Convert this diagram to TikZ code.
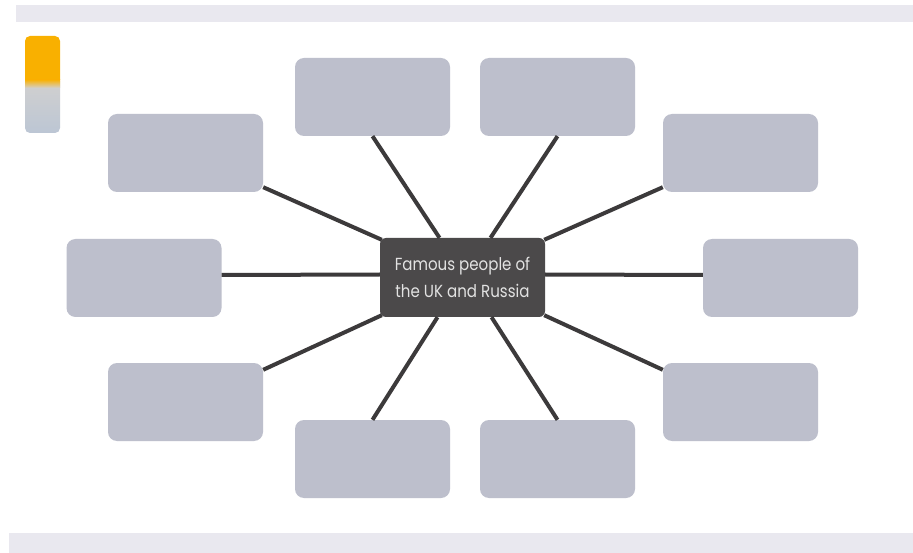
\documentclass[tikz,border=0pt]{standalone}
\usepackage{fontspec}
\setmainfont{Poppins}
\usetikzlibrary{calc}
\definecolor{bandc}{HTML}{E9E8EF}
\definecolor{boxc}{HTML}{BDBFCC}
\definecolor{centc}{HTML}{4B494A}
\definecolor{linec}{HTML}{3C3A3B}
\definecolor{textc}{HTML}{E2E2E2}
\definecolor{orangec}{HTML}{F9B000}
\definecolor{greyA}{HTML}{D3D1CF}
\definecolor{greyB}{HTML}{BCC6D4}
\tikzset{
  leaf/.style={rectangle, rounded corners=9pt, fill=boxc, minimum width=155pt, minimum height=78pt, inner sep=0pt},
  hub/.style={rectangle, rounded corners=6pt, fill=centc, minimum width=165pt, minimum height=79pt, inner sep=0pt, text=textc, align=center, font=\fontsize{17.5}{27}\selectfont},
  spoke/.style={draw=linec, line width=4pt}
}
\begin{document}
\begin{tikzpicture}[x=1pt,y=-1pt]
\useasboundingbox (0,0) rectangle (913,553);
\fill[white] (0,0) rectangle (913,553);
% bands
\fill[bandc] (16,5) rectangle (913,22);
\fill[bandc] (9,533) rectangle (913,553);
% icon
\shade[top color=greyA, bottom color=greyB, rounded corners=5pt] (25,76) rectangle (60,133);
\fill[orangec] (25,80) [rounded corners=5pt]-- (25,36) -- (60,36) [sharp corners]-- (60,80) -- cycle;
\shade[top color=orangec, bottom color=greyA] (25,79.5) rectangle (60,88);
% hub and leaves
\node[hub] (c) at (462.5,277.5) {\scalebox{0.86}[1]{Famous people of}\\\scalebox{0.86}[1]{the UK and Russia}};
\node[leaf] (b1) at (372.5,97) {};
\node[leaf] (b2) at (557.5,97) {};
\node[leaf] (b3) at (185.5,153) {};
\node[leaf] (b4) at (740.5,153) {};
\node[leaf] (b5) at (144,278) {};
\node[leaf] (b6) at (780.5,278) {};
\node[leaf] (b7) at (185.5,402) {};
\node[leaf] (b8) at (740.5,402) {};
\node[leaf] (b9) at (372.5,459) {};
\node[leaf] (b10) at (557.5,459) {};
% spokes
\draw[spoke] (b1.south) -- ($(c.north)+(-23,0)$);
\draw[spoke] (b2.south) -- ($(c.north)+(28,0)$);
\draw[spoke] ($(b3.south east)+(0,-5)$) -- ($(c.north west)+(2,2)$);
\draw[spoke] ($(b4.south west)+(0,-5)$) -- ($(c.north east)+(-1,2)$);
\draw[spoke] ($(b5.east)+(0,-3)$) -- ($(c.west)+(0,-3)$);
\draw[spoke] ($(b6.west)+(0,-3)$) -- ($(c.east)+(0,-3)$);
\draw[spoke] ($(b7.north east)+(0,7)$) -- ($(c.south west)+(2,-2)$);
\draw[spoke] ($(b8.north west)+(0,7)$) -- ($(c.south east)+(-1,-2)$);
\draw[spoke] (b9.north) -- ($(c.south)+(-25,0)$);
\draw[spoke] (b10.north) -- ($(c.south)+(29,0)$);
\end{tikzpicture}
\end{document}
